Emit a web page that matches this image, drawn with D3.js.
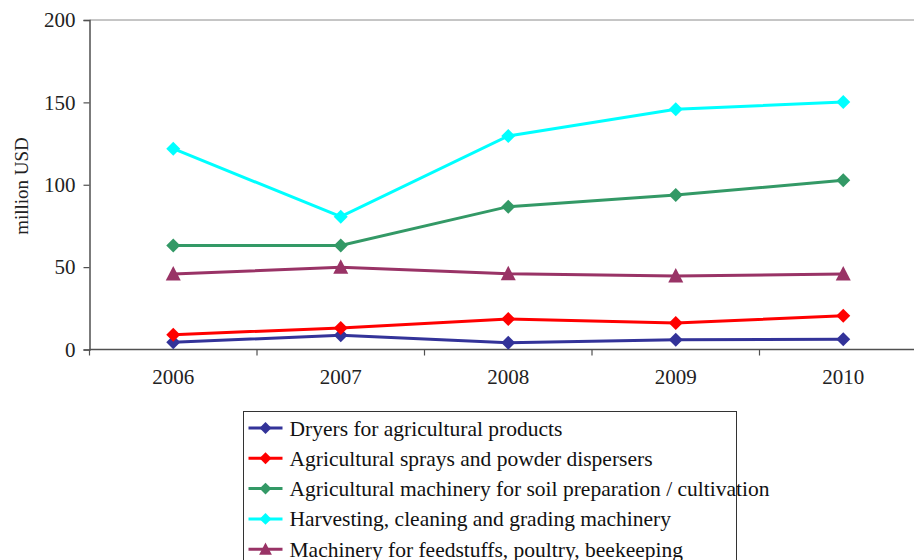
<!DOCTYPE html>
<html>
<head>
<meta charset="utf-8">
<script src="https://cdn.jsdelivr.net/npm/d3@7"></script>
<style>
  body { margin: 0; background: #fff; }
  svg { display: block; }
  svg text { font-family: "Liberation Serif", "DejaVu Serif", serif; }
</style>
</head>
<body>
<svg id="chart" width="914" height="560"></svg>
<script>
// chart data
const years = ["2006", "2007", "2008", "2009", "2010"];
const yTicks = [0, 50, 100, 150, 200];

const dryers = [4.4, 8.6, 4.1, 5.9, 6.2];
const sprays = [9.0, 13.1, 18.5, 16.1, 20.5];
const soilPrep = [63.2, 63.2, 86.7, 93.8, 102.7];
const harvesting = [121.9, 80.6, 129.6, 145.8, 150.2];
const feedstuffs = [45.8, 49.9, 46.0, 44.6, 45.8];

const seriesNames = [
    "Dryers for agricultural products",
    "Agricultural sprays and powder dispersers",
    "Agricultural machinery for soil preparation / cultivation",
    "Harvesting, cleaning and grading machinery",
    "Machinery for feedstuffs, poultry, beekeeping"
];
const seriesColors = ["#333399", "#ff0000", "#339966", "#00ffff", "#993366"];
const seriesMarkers = ["diamond", "diamond", "diamond", "diamond", "triangle"];
const seriesValues = [dryers, sprays, soilPrep, harvesting, feedstuffs];

const series = seriesNames.map((name, i) => ({
    name: name,
    color: seriesColors[i],
    marker: seriesMarkers[i],
    values: seriesValues[i]
}));

const FONT = '"Liberation Serif", "DejaVu Serif", serif';
const svg = d3.select('#chart');

// plot area (runs off the right edge, as in the source)
const PLOT_LEFT = 89.5, PLOT_TOP = 20, PLOT_BOTTOM = 349.5, PLOT_WIDTH = 837.5;

const x = d3.scaleBand()
    .domain(years)
    .range([PLOT_LEFT, PLOT_LEFT + PLOT_WIDTH]);

const y = d3.scaleLinear()
    .domain([0, 200])
    .range([PLOT_BOTTOM, PLOT_TOP]);

// top border line at 200
svg.append('line')
    .attr('x1', PLOT_LEFT).attr('x2', 914)
    .attr('y1', y(200)).attr('y2', y(200))
    .attr('stroke', '#8c8c8c')
    .attr('stroke-width', 1);

// y axis
const yAxis = svg.append('g')
    .attr('transform', `translate(${PLOT_LEFT},0)`)
    .call(d3.axisLeft(y).tickValues(yTicks).tickSize(6).tickPadding(8))
yAxis.attr('font-family', FONT).attr('font-size', 21);
yAxis.select('.domain').attr('stroke', '#505050').attr('stroke-width', 1.5);
yAxis.selectAll('.tick line').attr('stroke', '#505050').attr('stroke-width', 1.2);
yAxis.selectAll('text').attr('fill', '#222');

// x axis, ticks sit between the categories
const xAxis = svg.append('g')
    .attr('transform', `translate(0,${PLOT_BOTTOM})`)
    .call(d3.axisBottom(x).tickSize(0).tickPadding(20));
xAxis.attr('font-family', FONT).attr('font-size', 21);
xAxis.select('.domain').remove();
xAxis.selectAll('text').attr('fill', '#222');

svg.append('line')
    .attr('x1', PLOT_LEFT).attr('x2', 914)
    .attr('y1', PLOT_BOTTOM).attr('y2', PLOT_BOTTOM)
    .attr('stroke', '#505050')
    .attr('stroke-width', 1.5);

svg.append('g')
    .selectAll('line')
    .data(years)
    .enter()
    .append('line')
    .attr('x1', d => x(d))
    .attr('x2', d => x(d))
    .attr('y1', PLOT_BOTTOM)
    .attr('y2', PLOT_BOTTOM + 6)
    .attr('stroke', '#505050')
    .attr('stroke-width', 1.2);

// axis title
svg.append('text')
    .attr('transform', `translate(28,186) rotate(-90)`)
    .attr('text-anchor', 'middle')
    .attr('font-family', FONT)
    .attr('font-size', 19)
    .attr('fill', '#222')
    .text('million USD');

const cx = d => x(d) + x.bandwidth() / 2;

const line = d3.line()
    .x((v, i) => cx(years[i]))
    .y(v => y(v));

function markerPath(type) {
    if (type === 'triangle') return 'M0,-8L7.5,6.5L-7.5,6.5Z';
    return 'M0,-7L7,0L0,7L-7,0Z';
}

const lines = svg.append('g');
series.forEach(s => {
    lines.append('path')
        .datum(s.values)
        .attr('d', line)
        .attr('fill', 'none')
        .attr('stroke', s.color)
        .attr('stroke-width', 3);

    lines.append('g')
        .selectAll('path')
        .data(s.values)
        .enter()
        .append('path')
        .attr('transform', (v, i) => `translate(${cx(years[i])},${y(v)})`)
        .attr('d', markerPath(s.marker))
        .attr('fill', s.color);
});

// legend
const legend = svg.append('g').attr('transform', 'translate(243.5,411.5)');
legend.append('rect')
    .attr('width', 493)
    .attr('height', 160)
    .attr('fill', '#fff')
    .attr('stroke', '#333')
    .attr('stroke-width', 1);

const rowY = d3.scaleLinear().domain([0, 1]).range([16.5, 46.8]);

const rows = legend.selectAll('g.row')
    .data(series)
    .enter()
    .append('g')
    .attr('class', 'row')
    .attr('transform', (d, i) => `translate(0,${rowY(i)})`);

rows.append('line')
    .attr('x1', 5).attr('x2', 39)
    .attr('stroke', d => d.color)
    .attr('stroke-width', 3);

rows.append('path')
    .attr('transform', 'translate(22,0) scale(0.85)')
    .attr('d', d => markerPath(d.marker))
    .attr('fill', d => d.color);

rows.append('text')
    .attr('x', 46)
    .attr('dy', '0.35em')
    .attr('font-family', FONT)
    .attr('font-size', 21.5)
    .attr('fill', '#111')
    .text(d => d.name);
</script>
</body>
</html>
